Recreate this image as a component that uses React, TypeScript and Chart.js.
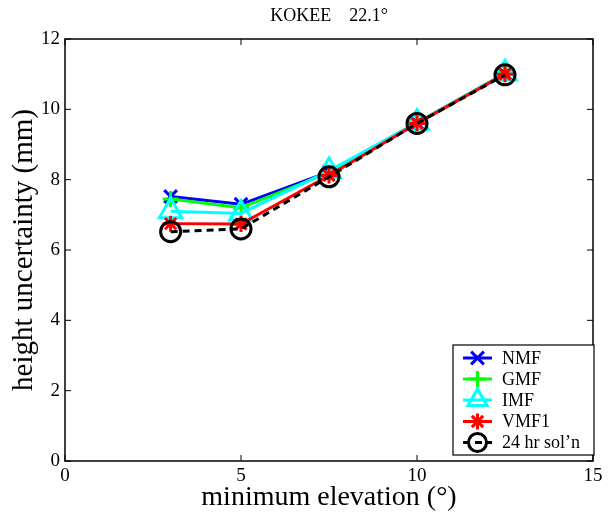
import React, { useEffect, useRef } from "react";
import { Chart, registerables } from "chart.js";

Chart.register(...registerables);

const elevations = [3, 5, 7.5, 10, 12.5];
const nmf = [7.52, 7.3, 8.22, 9.62, 11.02];
const gmf = [7.45, 7.2, 8.2, 9.62, 11.02];
const imf = [7.1, 7.04, 8.25, 9.62, 11.02];
const vmf1 = [6.75, 6.74, 8.12, 9.6, 11.0];
const sol24 = [6.52, 6.6, 8.08, 9.6, 10.98];

const xTicks = [0, 5, 10, 15];
const yTicks = [0, 2, 4, 6, 8, 10, 12];
const titleText = "KOKEE    22.1°";
const xTitle = "minimum elevation (°)";
const yTitle = "height uncertainty (mm)";

const FONT = "'Liberation Serif', 'Times New Roman', serif";

type Entry = { label: string; color: string; style: string; dash: number[]; radius: number };
const legendEntries: Entry[] = [
  { label: "NMF", color: "#0000ff", style: "crossRot", dash: [], radius: 9 },
  { label: "GMF", color: "#00ff00", style: "cross", dash: [], radius: 8 },
  { label: "IMF", color: "#00ffff", style: "triangle", dash: [], radius: 13 },
  { label: "VMF1", color: "#ff0000", style: "star", dash: [], radius: 8 },
  { label: "24 hr sol\u2019n", color: "#000000", style: "circle", dash: [7, 5], radius: 10 },
];

function drawMarker(ctx: CanvasRenderingContext2D, style: string, x: number, y: number, r: number, color: string) {
  ctx.save();
  ctx.strokeStyle = color;
  ctx.lineWidth = 3;
  ctx.setLineDash([]);
  ctx.beginPath();
  if (style === "cross" || style === "star") {
    ctx.moveTo(x - r, y);
    ctx.lineTo(x + r, y);
    ctx.moveTo(x, y - r);
    ctx.lineTo(x, y + r);
  }
  if (style === "crossRot" || style === "star") {
    const d = r * Math.SQRT1_2;
    ctx.moveTo(x - d, y - d);
    ctx.lineTo(x + d, y + d);
    ctx.moveTo(x - d, y + d);
    ctx.lineTo(x + d, y - d);
  }
  if (style === "triangle") {
    const a = r * Math.sin(Math.PI / 3);
    ctx.moveTo(x, y - r);
    ctx.lineTo(x + a, y + r / 2);
    ctx.lineTo(x - a, y + r / 2);
    ctx.closePath();
  }
  if (style === "circle") {
    ctx.arc(x, y, r, 0, Math.PI * 2);
  }
  ctx.stroke();
  ctx.restore();
}

const framePlugin = {
  id: "matlabFrame",
  afterDraw(chart: any) {
    const ctx: CanvasRenderingContext2D = chart.ctx;
    const { left, right, top, bottom } = chart.chartArea;
    const xs = chart.scales.x;
    const ys = chart.scales.y;
    ctx.save();
    ctx.strokeStyle = "#000";
    ctx.lineWidth = 1.5;
    ctx.setLineDash([]);
    ctx.strokeRect(left, top, right - left, bottom - top);
    const tl = 6;
    ctx.beginPath();
    for (const v of xTicks) {
      const px = xs.getPixelForValue(v);
      ctx.moveTo(px, bottom);
      ctx.lineTo(px, bottom - tl);
      ctx.moveTo(px, top);
      ctx.lineTo(px, top + tl);
    }
    for (const v of yTicks) {
      const py = ys.getPixelForValue(v);
      ctx.moveTo(left, py);
      ctx.lineTo(left + tl, py);
      ctx.moveTo(right, py);
      ctx.lineTo(right - tl, py);
    }
    ctx.lineWidth = 1;
    ctx.stroke();

    // title
    ctx.fillStyle = "#000";
    ctx.font = `18px ${FONT}`;
    ctx.textAlign = "center";
    ctx.textBaseline = "middle";
    ctx.fillText(titleText, (left + right) / 2, 16);

    // legend
    const bx = 453, by = 345, bw = 141, bh = 110;
    ctx.fillStyle = "#fff";
    ctx.fillRect(bx, by, bw, bh);
    ctx.strokeStyle = "#000";
    ctx.lineWidth = 1.2;
    ctx.strokeRect(bx, by, bw, bh);
    const rowYs = [358, 379, 400, 421.5, 442.5];
    legendEntries.forEach((e, i) => {
      const y = rowYs[i];
      ctx.save();
      ctx.strokeStyle = e.color;
      ctx.lineWidth = 3;
      ctx.setLineDash(e.dash);
      ctx.beginPath();
      ctx.moveTo(463, y);
      ctx.lineTo(492, y);
      ctx.stroke();
      ctx.restore();
      drawMarker(ctx, e.style, 477.5, y, e.style === "triangle" ? 11 : e.style === "circle" ? 9 : e.radius, e.color);
      ctx.fillStyle = "#000";
      ctx.font = `18px ${FONT}`;
      ctx.textAlign = "left";
      ctx.textBaseline = "middle";
      ctx.fillText(e.label, 502, y + 1);
    });
    ctx.restore();
  },
};

export default function App() {
  const ref = useRef<HTMLCanvasElement | null>(null);
  useEffect(() => {
    document.body.style.margin = "0";
    const canvas = ref.current;
    if (!canvas) return;
    const series = [nmf, gmf, imf, vmf1, sol24];
    const datasets = legendEntries.map((e, i) => ({
      label: e.label,
      data: elevations.map((x, j) => ({ x, y: series[i][j] })),
      borderColor: e.color,
      backgroundColor: "rgba(0,0,0,0)",
      borderWidth: 3,
      borderDash: e.dash,
      pointStyle: e.style as any,
      pointRadius: e.radius,
      pointBorderWidth: 3,
      pointBorderColor: e.color,
      pointBackgroundColor: "rgba(0,0,0,0)",
      order: 4 - i,
      tension: 0,
      fill: false,
    }));
    const chart = new Chart(canvas, {
      type: "line",
      data: { datasets },
      options: {
        animation: false,
        responsive: false,
        maintainAspectRatio: false,
        devicePixelRatio: 1,
        layout: { padding: { left: 0, right: 11, top: 39, bottom: 0 } },
        plugins: { legend: { display: false }, tooltip: { enabled: false }, title: { display: false } },
        scales: {
          x: {
            type: "linear",
            min: 0,
            max: 15,
            afterFit: (s: any) => { s.height = 53; },
            afterBuildTicks: (s: any) => { s.ticks = xTicks.map((v) => ({ value: v })); },
            grid: { display: false, drawTicks: false },
            border: { display: false },
            ticks: { color: "#000", font: { family: FONT, size: 19 }, padding: 4, maxRotation: 0 },
            title: { display: true, text: xTitle, color: "#000", font: { family: FONT, size: 28 }, padding: { top: 0, bottom: 0 } },
          },
          y: {
            type: "linear",
            min: 0,
            max: 12,
            afterFit: (s: any) => { s.width = 65; },
            afterBuildTicks: (s: any) => { s.ticks = yTicks.map((v) => ({ value: v })); },
            grid: { display: false, drawTicks: false },
            border: { display: false },
            ticks: { color: "#000", font: { family: FONT, size: 19 }, padding: 5 },
            title: { display: true, text: yTitle, color: "#000", font: { family: FONT, size: 29 }, padding: { top: 7, bottom: 0 } },
          },
        },
      },
      plugins: [framePlugin],
    });
    return () => chart.destroy();
  }, []);
  return (
    <div style={{ position: "absolute", left: 0, top: 0, width: 609, height: 514, background: "#fff" }}>
      <canvas ref={ref} width={609} height={514} style={{ width: 609, height: 514, display: "block" }} />
    </div>
  );
}
